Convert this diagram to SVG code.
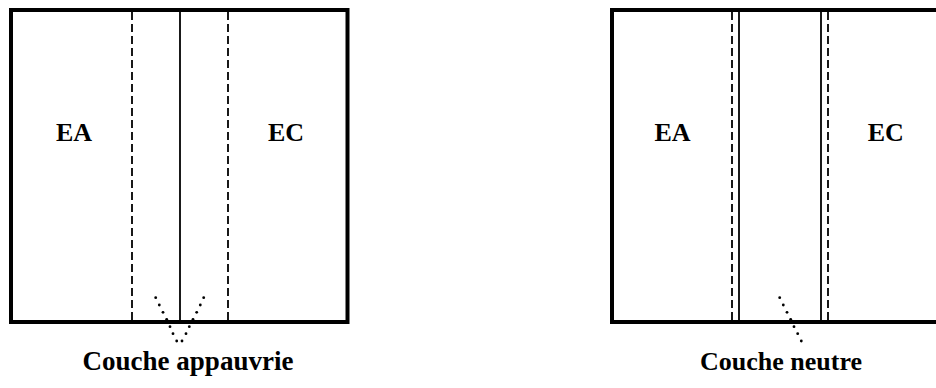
<svg xmlns="http://www.w3.org/2000/svg" width="936" height="388" viewBox="0 0 936 388">
<style>
.box{fill:none;stroke:#000;stroke-width:4}
.sol{stroke:#000;stroke-width:1.8}
.dash{stroke:#000;stroke-width:1.8;stroke-dasharray:8 4}
.lbl{font-family:"Liberation Serif",serif;font-weight:bold;font-size:26px;fill:#000;text-anchor:middle}
.dot{fill:#000}
</style>
<rect width="936" height="388" fill="#fff"/>
<g id="left">
<rect class="box" x="11" y="10" width="336.5" height="312"/>
<line class="dash" x1="132" y1="12" x2="132" y2="320"/>
<line class="sol" x1="180" y1="12" x2="180" y2="320"/>
<line class="dash" x1="228" y1="12" x2="228" y2="320"/>
<text class="lbl" x="74" y="141">EA</text>
<text class="lbl" x="286" y="141">EC</text>
<g id="dots-left">
<circle class="dot" cx="155.7" cy="297.7" r="1.4"/>
<circle class="dot" cx="159.3" cy="305" r="1.4"/>
<circle class="dot" cx="163" cy="312.3" r="1.4"/>
<circle class="dot" cx="166.7" cy="319.3" r="1.4"/>
<circle class="dot" cx="170" cy="326.7" r="1.4"/>
<circle class="dot" cx="173" cy="333.7" r="1.4"/>
<circle class="dot" cx="176.7" cy="341" r="1.4"/>
<circle class="dot" cx="182" cy="341" r="1.4"/>
<circle class="dot" cx="186" cy="333.7" r="1.4"/>
<circle class="dot" cx="189.3" cy="326.7" r="1.4"/>
<circle class="dot" cx="193" cy="319.3" r="1.4"/>
<circle class="dot" cx="196.7" cy="312.3" r="1.4"/>
<circle class="dot" cx="200.3" cy="305" r="1.4"/>
<circle class="dot" cx="203.7" cy="297.7" r="1.4"/>
</g>
<text class="lbl" x="188" y="370" style="font-size:27px">Couche appauvrie</text>
</g>
<g id="right">
<rect class="box" x="612" y="10" width="336.5" height="312"/>
<line class="dash" x1="732" y1="12" x2="732" y2="320"/>
<line class="sol" x1="739" y1="12" x2="739" y2="320"/>
<line class="sol" x1="821" y1="12" x2="821" y2="320"/>
<line class="dash" x1="828" y1="12" x2="828" y2="320"/>
<text class="lbl" x="672.5" y="141">EA</text>
<text class="lbl" x="885.7" y="141">EC</text>
<g id="dots-right">
<circle class="dot" cx="779.7" cy="297.7" r="1.4"/>
<circle class="dot" cx="783.3" cy="305" r="1.4"/>
<circle class="dot" cx="787" cy="312.3" r="1.4"/>
<circle class="dot" cx="790.7" cy="319.3" r="1.4"/>
<circle class="dot" cx="794" cy="326.7" r="1.4"/>
<circle class="dot" cx="797.7" cy="333.7" r="1.4"/>
<circle class="dot" cx="801.3" cy="341" r="1.4"/>
</g>
<text class="lbl" x="781" y="370">Couche neutre</text>
</g>
<g id="connectors"></g>
</svg>
